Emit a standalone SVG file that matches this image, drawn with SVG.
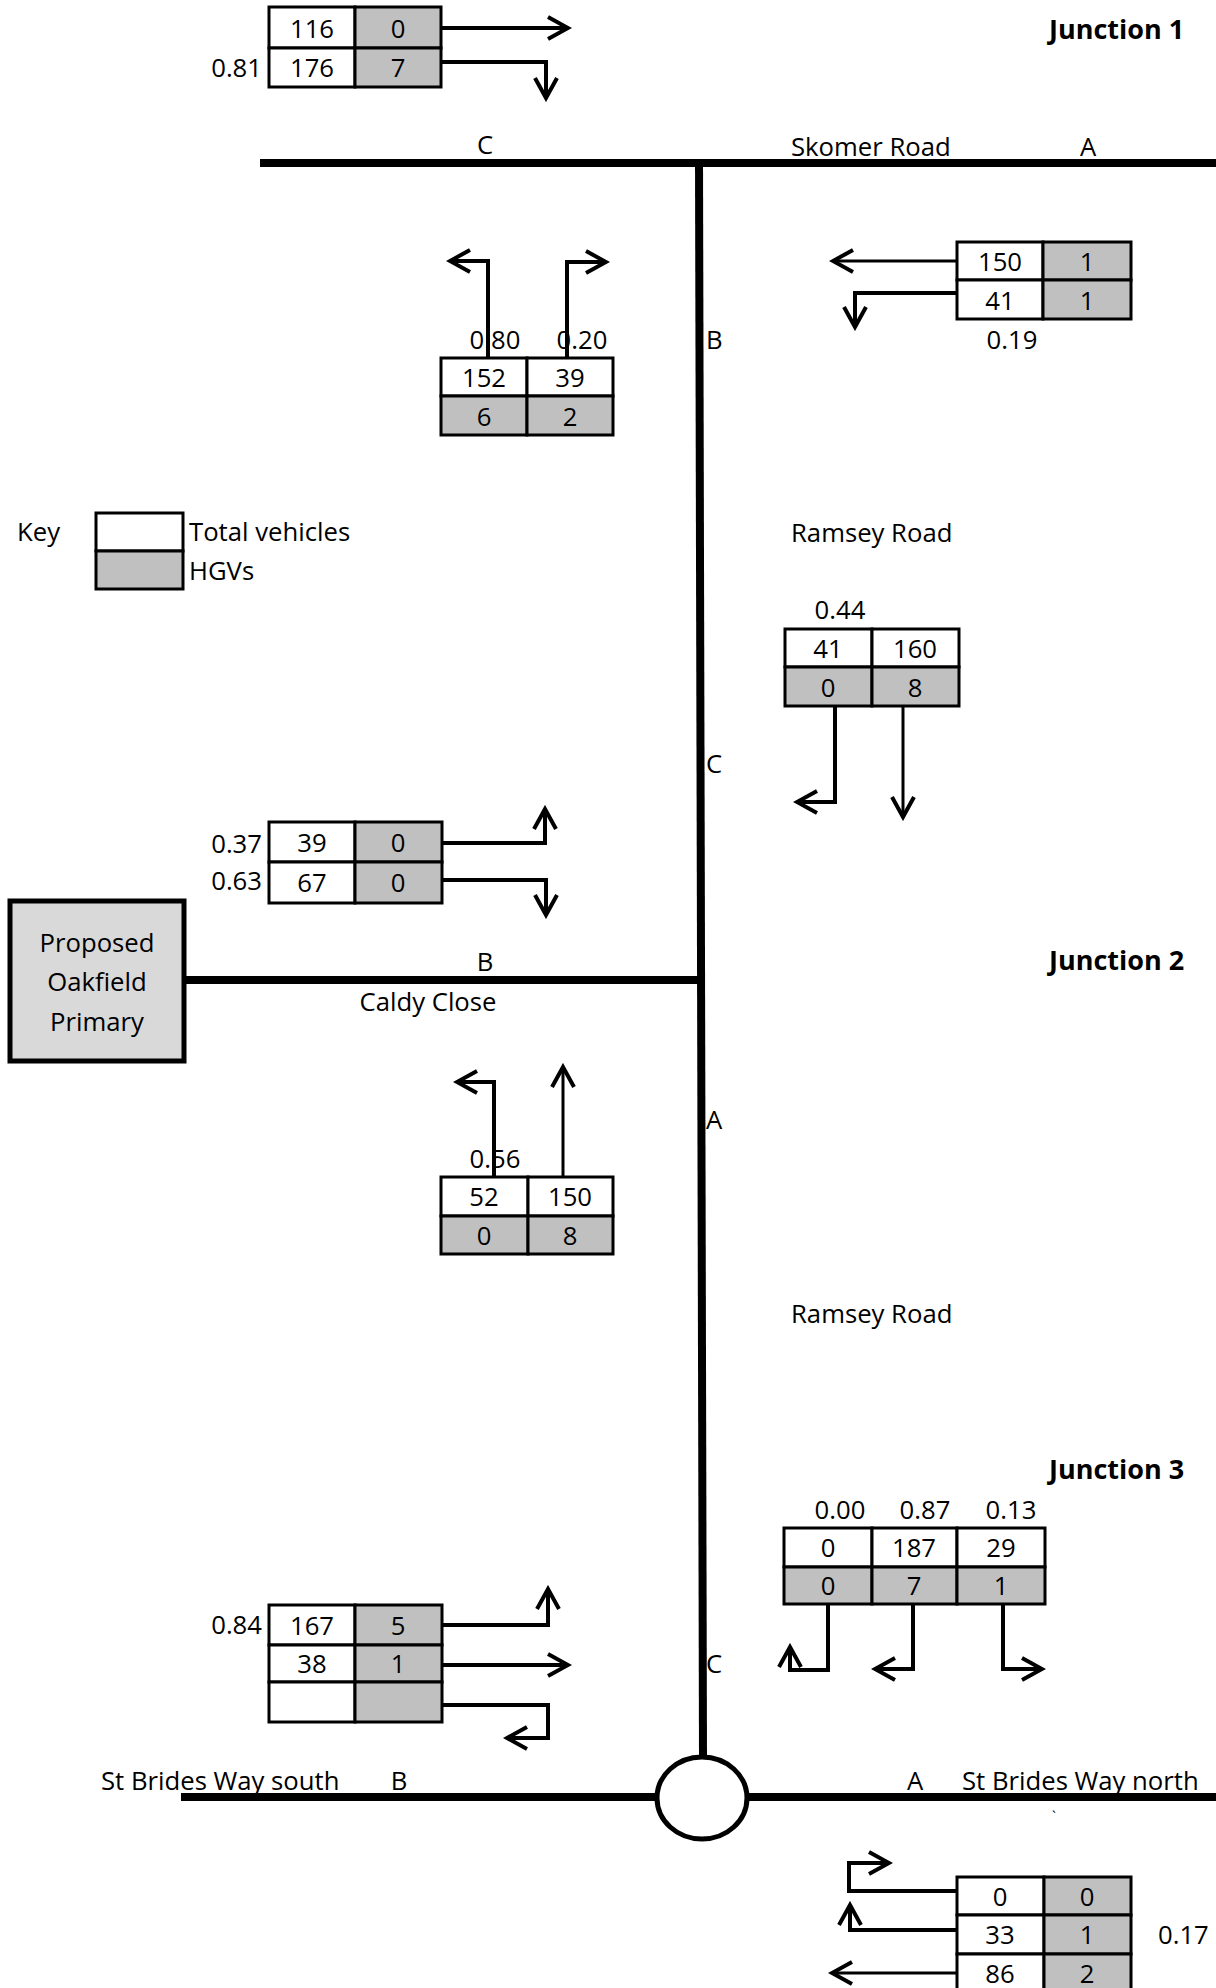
<svg xmlns="http://www.w3.org/2000/svg" width="1216" height="1988" viewBox="0 0 1216 1988">
<defs>
<marker id="ah" markerUnits="userSpaceOnUse" markerWidth="26" markerHeight="26" viewBox="0 0 26 26" refX="22" refY="13" orient="auto">
<path d="M2,2 L22,13 L2,24" fill="none" stroke="#000" stroke-width="4"/>
</marker>
<style>
text{font-family:"Open Sans","Liberation Sans",sans-serif;font-size:25.7px;fill:#000}
.c{text-anchor:middle}
.e{text-anchor:end}
.b{font-weight:bold;font-size:27px}
.w{fill:#fff;stroke:#000;stroke-width:3}
.g{fill:#c0c0c0;stroke:#000;stroke-width:3}
.road{stroke:#000;stroke-width:8;fill:none}
.ar{stroke:#000;stroke-width:4;fill:none;marker-end:url(#ah)}
.ar.t{stroke-width:3}
</style>
</defs>
<rect width="1216" height="1988" fill="#fff"/>

<g id="roads">
<line class="road" x1="260" y1="163" x2="1216" y2="163"/>
<line class="road" x1="699" y1="159" x2="703" y2="1757"/>
<line class="road" x1="184" y1="980" x2="700" y2="980"/>
<line class="road" x1="181" y1="1797" x2="658" y2="1797"/>
<line class="road" x1="746" y1="1797" x2="1216" y2="1797"/>
<ellipse cx="702" cy="1798" rx="45" ry="41" fill="#fff" stroke="#000" stroke-width="5"/>
</g>

<g id="labels">
<text x="1049" y="39" class="b">Junction 1</text>
<text x="485" y="154" class="c">C</text>
<text x="791" y="156">Skomer Road</text>
<text x="1088" y="156" class="c">A</text>
<text x="706" y="349">B</text>
<text x="791" y="542">Ramsey Road</text>
<text x="706" y="773">C</text>
<text x="485" y="971" class="c">B</text>
<text x="428" y="1011" class="c">Caldy Close</text>
<text x="1049" y="970" class="b">Junction 2</text>
<text x="706" y="1129">A</text>
<text x="791" y="1323">Ramsey Road</text>
<text x="1049" y="1479" class="b">Junction 3</text>
<text x="706" y="1673">C</text>
<text x="101" y="1790">St Brides Way south</text>
<text x="399" y="1790" class="c">B</text>
<text x="915" y="1790" class="c">A</text>
<text x="962" y="1790">St Brides Way north</text>
<text x="1052" y="1822" style="font-size:14px">`</text>
</g>

<g id="key">
<text x="17" y="541">Key</text>
<rect class="w" x="96" y="513" width="87" height="38"/>
<rect class="g" x="96" y="551" width="87" height="38"/>
<text x="189" y="541">Total vehicles</text>
<text x="189" y="580">HGVs</text>
</g>

<g id="school">
<rect x="10" y="901" width="174" height="160" fill="#d9d9d9" stroke="#000" stroke-width="5"/>
<text x="97" y="952" class="c">Proposed</text>
<text x="97" y="991" class="c">Oakfield</text>
<text x="97" y="1031" class="c">Primary</text>
</g>

<g id="t1">
<rect class="w" x="269" y="7" width="86" height="41"/>
<rect class="g" x="355" y="7" width="86" height="41"/>
<rect class="w" x="269" y="48" width="86" height="39"/>
<rect class="g" x="355" y="48" width="86" height="39"/>
<text x="312" y="38" class="c">116</text>
<text x="398" y="38" class="c">0</text>
<text x="312" y="77" class="c">176</text>
<text x="398" y="77" class="c">7</text>
<text x="262" y="77" class="e">0.81</text>
</g>

<g id="t2">
<rect class="w" x="441" y="358" width="86" height="38"/>
<rect class="w" x="527" y="358" width="86" height="38"/>
<rect class="g" x="441" y="396" width="86" height="39"/>
<rect class="g" x="527" y="396" width="86" height="39"/>
<text x="484" y="387" class="c">152</text>
<text x="570" y="387" class="c">39</text>
<text x="484" y="426" class="c">6</text>
<text x="570" y="426" class="c">2</text>
<text x="495" y="349" class="c">0.80</text>
<text x="582" y="349" class="c">0.20</text>
</g>

<g id="t3">
<rect class="w" x="957" y="242" width="86" height="38"/>
<rect class="g" x="1043" y="242" width="88" height="38"/>
<rect class="w" x="957" y="280" width="86" height="39"/>
<rect class="g" x="1043" y="280" width="88" height="39"/>
<text x="1000" y="271" class="c">150</text>
<text x="1087" y="271" class="c">1</text>
<text x="1000" y="310" class="c">41</text>
<text x="1087" y="310" class="c">1</text>
<text x="1012" y="349" class="c">0.19</text>
</g>

<g id="t4">
<rect class="w" x="785" y="629" width="87" height="38"/>
<rect class="w" x="872" y="629" width="87" height="38"/>
<rect class="g" x="785" y="667" width="87" height="39"/>
<rect class="g" x="872" y="667" width="87" height="39"/>
<text x="828" y="658" class="c">41</text>
<text x="915" y="658" class="c">160</text>
<text x="828" y="697" class="c">0</text>
<text x="915" y="697" class="c">8</text>
<text x="840" y="619" class="c">0.44</text>
</g>

<g id="t5">
<rect class="w" x="269" y="822" width="86" height="40"/>
<rect class="g" x="355" y="822" width="87" height="40"/>
<rect class="w" x="269" y="862" width="86" height="41"/>
<rect class="g" x="355" y="862" width="87" height="41"/>
<text x="312" y="852" class="c">39</text>
<text x="398" y="852" class="c">0</text>
<text x="312" y="892" class="c">67</text>
<text x="398" y="892" class="c">0</text>
<text x="262" y="853" class="e">0.37</text>
<text x="262" y="890" class="e">0.63</text>
</g>

<g id="t6">
<rect class="w" x="441" y="1177" width="87" height="39"/>
<rect class="w" x="528" y="1177" width="85" height="39"/>
<rect class="g" x="441" y="1216" width="87" height="38"/>
<rect class="g" x="528" y="1216" width="85" height="38"/>
<text x="484" y="1206" class="c">52</text>
<text x="570" y="1206" class="c">150</text>
<text x="484" y="1245" class="c">0</text>
<text x="570" y="1245" class="c">8</text>
<text x="495" y="1168" class="c">0.56</text>
</g>

<g id="t7">
<rect class="w" x="784" y="1528" width="88" height="39"/>
<rect class="w" x="872" y="1528" width="85" height="39"/>
<rect class="w" x="957" y="1528" width="88" height="39"/>
<rect class="g" x="784" y="1567" width="88" height="37"/>
<rect class="g" x="872" y="1567" width="85" height="37"/>
<rect class="g" x="957" y="1567" width="88" height="37"/>
<text x="828" y="1557" class="c">0</text>
<text x="914" y="1557" class="c">187</text>
<text x="1001" y="1557" class="c">29</text>
<text x="828" y="1595" class="c">0</text>
<text x="914" y="1595" class="c">7</text>
<text x="1001" y="1595" class="c">1</text>
<text x="840" y="1519" class="c">0.00</text>
<text x="925" y="1519" class="c">0.87</text>
<text x="1011" y="1519" class="c">0.13</text>
</g>

<g id="t8">
<rect class="w" x="269" y="1605" width="86" height="40"/>
<rect class="g" x="355" y="1605" width="87" height="40"/>
<rect class="w" x="269" y="1645" width="86" height="37"/>
<rect class="g" x="355" y="1645" width="87" height="37"/>
<rect class="w" x="269" y="1682" width="86" height="40"/>
<rect class="g" x="355" y="1682" width="87" height="40"/>
<text x="312" y="1635" class="c">167</text>
<text x="398" y="1635" class="c">5</text>
<text x="312" y="1673" class="c">38</text>
<text x="398" y="1673" class="c">1</text>
<text x="262" y="1634" class="e">0.84</text>
</g>

<g id="t9">
<rect class="w" x="957" y="1877" width="87" height="38"/>
<rect class="g" x="1044" y="1877" width="87" height="38"/>
<rect class="w" x="957" y="1915" width="87" height="39"/>
<rect class="g" x="1044" y="1915" width="87" height="39"/>
<rect class="w" x="957" y="1954" width="87" height="39"/>
<rect class="g" x="1044" y="1954" width="87" height="39"/>
<text x="1000" y="1906" class="c">0</text>
<text x="1087" y="1906" class="c">0</text>
<text x="1000" y="1944" class="c">33</text>
<text x="1087" y="1944" class="c">1</text>
<text x="1000" y="1983" class="c">86</text>
<text x="1087" y="1983" class="c">2</text>
<text x="1158" y="1944">0.17</text>
</g>

<g id="connectors">
<path class="ar" d="M441,28 H568"/>
<path class="ar" d="M441,62 H546 V98"/>
<path class="ar" d="M488,358 V261 H450"/>
<path class="ar" d="M567,358 V262 H606"/>
<path class="ar t" d="M957,261 H833"/>
<path class="ar" d="M957,293 H855 V327"/>
<path class="ar" d="M835,706 V802 H797"/>
<path class="ar t" d="M903,706 V817"/>
<path class="ar" d="M442,843 H545 V809"/>
<path class="ar" d="M442,880 H546 V915"/>
<path class="ar" d="M494,1177 V1082 H457"/>
<path class="ar t" d="M563,1177 V1067"/>
<path class="ar" d="M828,1604 V1670 H790 V1647"/>
<path class="ar" d="M913,1604 V1669 H875"/>
<path class="ar" d="M1003,1604 V1669 H1042"/>
<path class="ar" d="M442,1625 H548 V1589"/>
<path class="ar" d="M442,1665 H568"/>
<path class="ar" d="M442,1705 H548 V1738 H507"/>
<path class="ar" d="M957,1891 H849 V1863 H889"/>
<path class="ar" d="M957,1930 H850 V1905"/>
<path class="ar t" d="M957,1973 H832"/>
</g>
</svg>
